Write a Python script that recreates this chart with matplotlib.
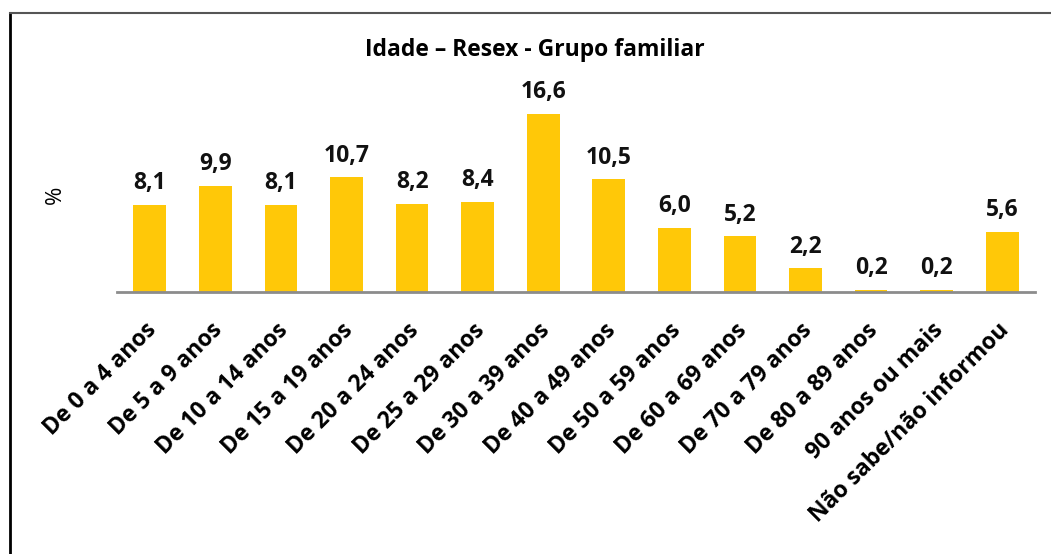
import matplotlib
matplotlib.use("Agg")
import matplotlib.pyplot as plt
import matplotlib.transforms as mtransforms
from matplotlib.lines import Line2D

# dados
faixas = ["De 0 a 4 anos", "De 5 a 9 anos", "De 10 a 14 anos", "De 15 a 19 anos",
          "De 20 a 24 anos", "De 25 a 29 anos", "De 30 a 39 anos", "De 40 a 49 anos",
          "De 50 a 59 anos", "De 60 a 69 anos", "De 70 a 79 anos", "De 80 a 89 anos",
          "90 anos ou mais", "Não sabe/não informou"]
percentuais = [8.1, 9.9, 8.1, 10.7, 8.2, 8.4, 16.6, 10.5, 6.0, 5.2, 2.2, 0.2, 0.2, 5.6]

plt.rcParams['font.family'] = ['Open Sans', 'DejaVu Sans']

fig = plt.figure(figsize=(10.51, 5.54), dpi=100)
ax = fig.add_axes([0.1113, 0.4729, 0.8735, 0.3917])

x = list(range(len(faixas)))
ax.bar(x, percentuais, width=0.5, color="#FFC808", zorder=2)

for xi, v in zip(x, percentuais):
    ax.annotate(f"{v:.1f}".replace(".", ","), (xi, v), xytext=(0, 7),
                textcoords="offset points", ha="center", va="bottom",
                fontsize=16.5, fontweight="bold", color="#111111")

ax.set_xlim(-0.5, len(faixas) - 0.5)
ax.set_ylim(0, 20.24)
ax.set_xticks(x)
ax.set_xticklabels(faixas, rotation=45, ha="right", rotation_mode="anchor",
                   fontsize=16.5, fontweight="bold")
ax.tick_params(axis="x", length=0, pad=19)
shift = mtransforms.ScaledTranslation(-5 / 100, 0, fig.dpi_scale_trans)
for lbl in ax.get_xticklabels():
    lbl.set_transform(lbl.get_transform() + shift)
ax.set_yticks([])
for s in ["top", "right", "left"]:
    ax.spines[s].set_visible(False)
ax.spines["bottom"].set_color("#8c8c8c")
ax.spines["bottom"].set_linewidth(2)
ax.spines["bottom"].set_zorder(3)

fig.text(55 / 1051, 1 - 195 / 554, "%", rotation=90, ha="center", va="center",
         fontsize=16)

fig.text(535 / 1051, 1 - 50 / 554, "Idade – Resex - Grupo familiar",
         ha="center", va="center", fontsize=16.5, fontweight="bold")

# moldura
x0 = 10 / 1051
y0 = 1 - 13 / 554
fig.add_artist(Line2D([x0, x0], [0, y0], color="black", lw=2, transform=fig.transFigure))
fig.add_artist(Line2D([x0, 1], [y0, y0], color="#555555", lw=1.5, transform=fig.transFigure))

fig.savefig("out.png", dpi=100)
